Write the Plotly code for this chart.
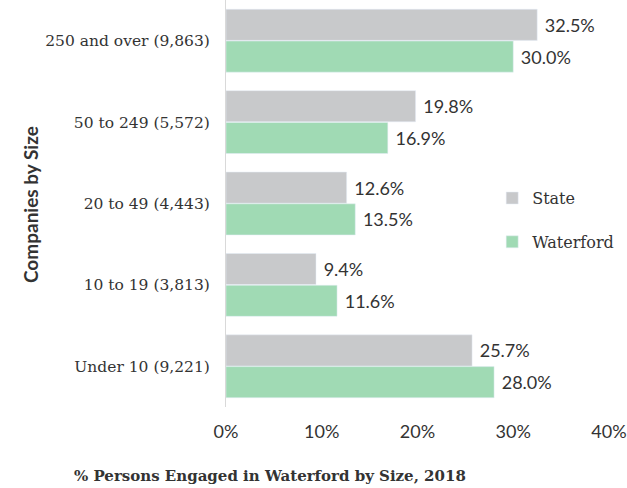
import plotly.graph_objects as go

categories = ["250 and over (9,863)", "50 to 249 (5,572)", "20 to 49 (4,443)", "10 to 19 (3,813)", "Under 10 (9,221)"]
state = [32.5, 19.8, 12.6, 9.4, 25.7]
waterford = [30.0, 16.9, 13.5, 11.6, 28.0]
tick_vals = [0, 10, 20, 30, 40]
tick_text = ["0%", "10%", "20%", "30%", "40%"]

label_font = dict(family="DejaVu Serif", size=15.5, color="#333333")
num_font = dict(family="Lato", size=18, color="#333333")

fig = go.Figure()
fig.add_trace(go.Bar(
    y=categories, x=state, orientation="h", name="State",
    marker_color="#c8c9cb", text=[f"\u00a0{v:.1f}%" for v in state],
    textposition="outside", textfont=num_font, cliponaxis=False,
    legendgroup="a",
))
fig.add_trace(go.Bar(
    y=categories, x=waterford, orientation="h", name="Waterford",
    marker_color="#a0dab4", text=[f"\u00a0{v:.1f}%" for v in waterford],
    textposition="outside", textfont=num_font, cliponaxis=False,
    legendgroup="b",
))

fig.update_layout(
    width=627, height=488,
    margin=dict(l=226, r=18, t=0, b=81),
    plot_bgcolor="white", paper_bgcolor="white",
    barmode="group", bargap=0.22, bargroupgap=0.02,
    showlegend=True,
    legend=dict(x=0.695, y=0.555, xanchor="left", yanchor="top",
                font=dict(family="DejaVu Serif", size=16, color="#333333"),
                tracegroupgap=20, itemwidth=30, bgcolor="rgba(0,0,0,0)"),
    xaxis=dict(range=[0, 40], tickvals=tick_vals, ticktext=tick_text,
               tickfont=num_font, showgrid=False, zeroline=False,
               showline=False, ticks="", ticklen=0, automargin=False,
               ticklabelstandoff=12),
    yaxis=dict(autorange="reversed", tickfont=label_font, showgrid=False,
               showline=True, linecolor="#d9d9d9", linewidth=1,
               ticks="", ticklabelstandoff=12, automargin=False),
    annotations=[
        dict(text="<b>% Persons Engaged in Waterford by Size, 2018</b>",
             xref="paper", yref="paper", x=(270 - 226) / 383, y=-(476 - 407) / 407,
             xanchor="center", yanchor="middle", showarrow=False,
             font=dict(family="DejaVu Serif", size=15, color="#333333")),
        dict(text="<b>Companies by Size</b>",
             xref="paper", yref="paper", x=-(226 - 30) / 383, y=1 - 205 / 407,
             xanchor="center", yanchor="middle", showarrow=False, textangle=-90,
             font=dict(family="Lato", size=19, color="#333333")),
    ],
)

fig.write_html("out.html", config={"displayModeBar": False},
               post_script="document.body.style.margin='0';")
